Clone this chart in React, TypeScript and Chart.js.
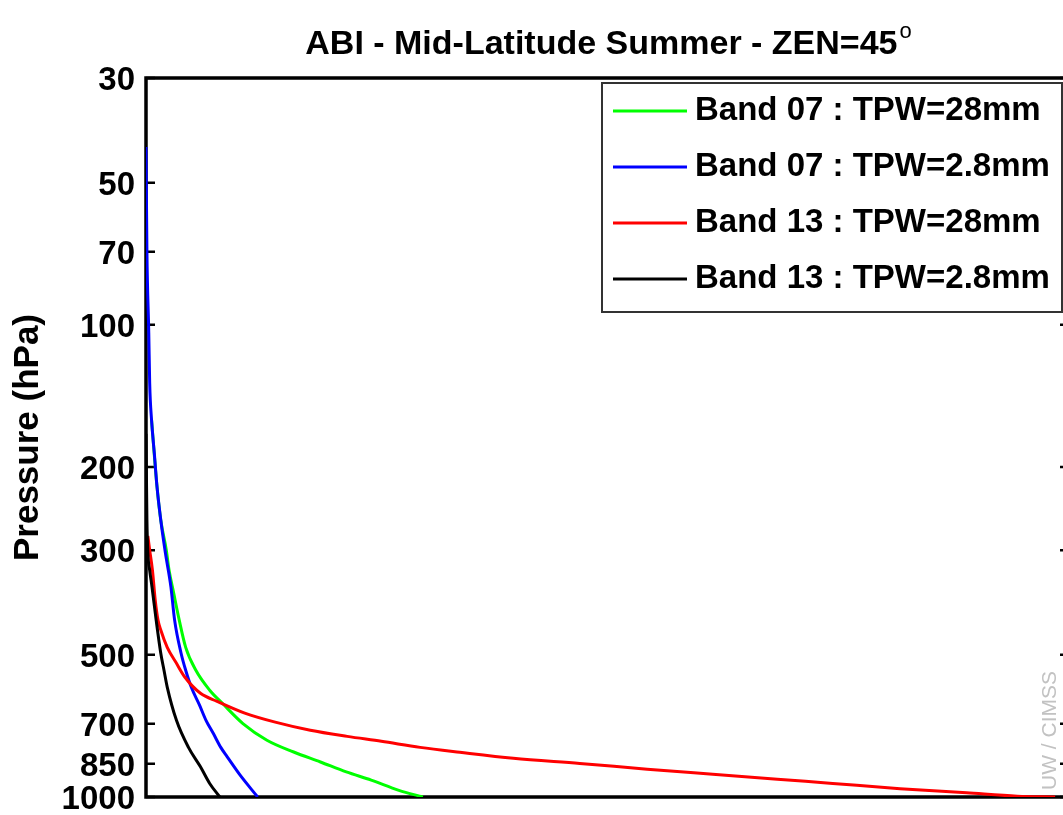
import React, { useEffect, useRef } from 'react';
import { Chart, registerables } from 'chart.js';

Chart.register(...registerables);

const FONT = '"Liberation Sans", Arial, Helvetica, sans-serif';

const TITLE = 'ABI - Mid-Latitude Summer - ZEN=45';
const TITLE_SUP = 'o';
const Y_TITLE = 'Pressure (hPa)';
const WATERMARK = 'UW / CIMSS';

const yTicks = [30, 50, 70, 100, 200, 300, 500, 700, 850, 1000];

const seriesLabels = [
  'Band 07 : TPW=28mm',
  'Band 07 : TPW=2.8mm',
  'Band 13 : TPW=28mm',
  'Band 13 : TPW=2.8mm',
];
const seriesColors = ['#00ff00', '#0000ff', '#ff0000', '#000000'];

// Band 07, TPW = 28 mm (green)
const band07WetP = [159, 221, 259, 300, 331, 370, 422, 482, 539, 594, 634, 699, 758, 803, 843, 885, 921, 968, 1000];
const band07WetW = [0.006, 0.012, 0.016, 0.022, 0.025, 0.030, 0.036, 0.043, 0.054, 0.069, 0.083, 0.105, 0.131, 0.160, 0.189, 0.217, 0.244, 0.274, 0.300];

// Band 07, TPW = 2.8 mm (blue)
const band07DryP = [42, 70, 104, 133, 159, 187, 221, 259, 304, 359, 422, 496, 539, 585, 639, 688, 734, 785, 822, 899, 1000];
const band07DryW = [0.000, 0.001, 0.003, 0.004, 0.006, 0.009, 0.012, 0.016, 0.021, 0.027, 0.031, 0.038, 0.043, 0.049, 0.058, 0.065, 0.073, 0.081, 0.088, 0.102, 0.121];

// Band 13, TPW = 28 mm (red)
const band13WetP = [280, 300, 331, 383, 422, 443, 482, 521, 557, 603, 627, 664, 694, 722, 744, 762, 785, 804, 828, 849, 873, 895, 917, 936, 960, 980, 996, 1000];
const band13WetW = [0.002, 0.004, 0.007, 0.010, 0.013, 0.016, 0.023, 0.033, 0.042, 0.059, 0.077, 0.107, 0.140, 0.178, 0.218, 0.255, 0.297, 0.340, 0.398, 0.470, 0.543, 0.614, 0.684, 0.744, 0.817, 0.889, 0.944, 0.985];

// Band 13, TPW = 2.8 mm (black)
const band13DryP = [170, 259, 304, 331, 359, 422, 496, 539, 585, 688, 785, 863, 936, 1000];
const band13DryW = [0.000, 0.001, 0.002, 0.004, 0.0065, 0.011, 0.016, 0.0195, 0.023, 0.033, 0.046, 0.059, 0.069, 0.080];

const seriesP = [band07WetP, band07DryP, band13WetP, band13DryP];
const seriesW = [band07WetW, band07DryW, band13WetW, band13DryW];

const CANVAS_W = 1080;
const CANVAS_H = 815;

const framePlugin = {
  id: 'frame',
  beforeDatasetsDraw(chart: any) {
    const { ctx, chartArea: a, scales } = chart;
    const y = scales.y;
    ctx.save();
    ctx.strokeStyle = '#000';
    ctx.lineWidth = 3.5;
    ctx.strokeRect(a.left, a.top, a.right - a.left, a.bottom - a.top);
    ctx.lineWidth = 2.5;
    ctx.beginPath();
    for (const v of yTicks) {
      const py = y.getPixelForValue(v);
      ctx.moveTo(a.left, py);
      ctx.lineTo(a.left + 9, py);
      ctx.moveTo(a.right, py);
      ctx.lineTo(a.right - 9, py);
    }
    ctx.stroke();
    ctx.restore();
  },
};

const decorPlugin = {
  id: 'decor',
  afterDraw(chart: any) {
    const { ctx, chartArea: a } = chart;
    ctx.save();
    // Title with superscript
    const mainFont = `bold 34px ${FONT}`;
    const supFont = `22px ${FONT}`;
    ctx.font = mainFont;
    const w1 = ctx.measureText(TITLE).width;
    ctx.font = supFont;
    const w2 = ctx.measureText(TITLE_SUP).width;
    const cx = (a.left + a.right) / 2;
    const x0 = cx - (w1 + w2) / 2;
    ctx.fillStyle = '#000';
    ctx.textAlign = 'left';
    ctx.textBaseline = 'alphabetic';
    ctx.font = mainFont;
    ctx.fillText(TITLE, x0, 54);
    ctx.font = supFont;
    ctx.fillText(TITLE_SUP, x0 + w1 + 2, 38);

    // Legend box
    const bx = a.right - 467;
    const by = a.top + 5;
    const bw = 460;
    const bh = 229;
    ctx.fillStyle = '#fff';
    ctx.fillRect(bx, by, bw, bh);
    ctx.strokeStyle = '#333';
    ctx.lineWidth = 2;
    ctx.strokeRect(bx, by, bw, bh);
    ctx.font = `bold 33px ${FONT}`;
    chart.data.datasets.forEach((ds: any, i: number) => {
      const base = by + 37 + i * 56;
      ctx.strokeStyle = ds.borderColor;
      ctx.lineWidth = 3;
      ctx.beginPath();
      ctx.moveTo(bx + 11, base - 9);
      ctx.lineTo(bx + 85, base - 9);
      ctx.stroke();
      ctx.fillStyle = '#000';
      ctx.fillText(ds.label, bx + 93, base);
    });

    // Watermark
    ctx.translate(a.right - 19, a.bottom - 7);
    ctx.rotate(-Math.PI / 2);
    ctx.font = `21px ${FONT}`;
    ctx.fillStyle = '#c2c2c2';
    ctx.textAlign = 'left';
    ctx.textBaseline = 'middle';
    ctx.fillText(WATERMARK, 0, 0);
    ctx.restore();
  },
};

export default function App() {
  const ref = useRef<HTMLCanvasElement | null>(null);

  useEffect(() => {
    if (!ref.current) return;
    const chart = new Chart(ref.current, {
      type: 'line',
      data: {
        datasets: seriesLabels.map((label, i) => ({
          label,
          data: seriesP[i].map((p, j) => ({ x: seriesW[i][j], y: p })),
          borderColor: seriesColors[i],
          backgroundColor: seriesColors[i],
          borderWidth: 3,
          pointRadius: 0,
          fill: false,
          cubicInterpolationMode: 'monotone',
          order: 3 - i,
        })),
      },
      options: {
        responsive: false,
        animation: false,
        events: [],
        layout: { padding: { left: 0, top: 78, right: CANVAS_W - 1069, bottom: CANVAS_H - 797 } },
        plugins: {
          legend: { display: false },
          tooltip: { enabled: false },
          title: { display: false },
        },
        scales: {
          x: { type: 'linear', min: 0, max: 1, display: false },
          y: {
            type: 'logarithmic',
            reverse: true,
            min: 30,
            max: 1000,
            afterBuildTicks: (s: any) => {
              s.ticks = yTicks.map((v) => ({ value: v }));
            },
            afterFit: (s: any) => {
              s.width = 146;
              s.paddingTop = 0;
              s.paddingBottom = 0;
            },
            ticks: {
              autoSkip: false,
              padding: 11,
              labelOffset: 3,
              color: '#000',
              font: { family: FONT, size: 33, weight: 'bold' },
              callback: (v: any) => String(v),
            },
            grid: { display: false, drawTicks: false },
            border: { display: false },
            title: {
              display: true,
              text: Y_TITLE,
              color: '#000',
              font: { family: FONT, size: 35, weight: 'bold' },
              padding: { top: 7, bottom: 0 },
            },
          },
        },
      } as any,
      plugins: [framePlugin, decorPlugin],
    });
    return () => chart.destroy();
  }, []);

  return (
    <div style={{ position: 'absolute', left: 0, top: 0, width: 1063, height: 815, overflow: 'hidden', background: '#fff' }}>
      <canvas ref={ref} width={CANVAS_W} height={CANVAS_H} style={{ display: 'block' }} />
    </div>
  );
}
